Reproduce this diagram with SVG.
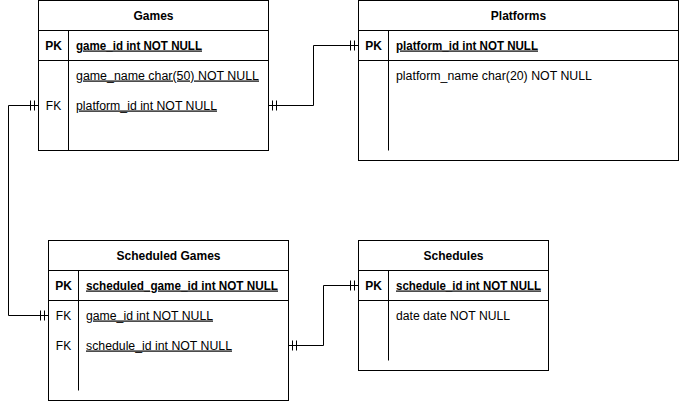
<svg xmlns="http://www.w3.org/2000/svg" width="679" height="401" viewBox="0 0 679 401">
<style>
.box{fill:#fff;stroke:#000;stroke-width:1}
.ln{fill:none;stroke:#000;stroke-width:1}
text{font-family:"Liberation Sans",Arial,sans-serif;font-size:12px;fill:#000}
.t{font-weight:bold;text-anchor:middle}
.k{text-anchor:middle}
.kb{text-anchor:middle;font-weight:bold}
.pk{font-weight:bold;text-decoration:underline}
.u{text-decoration:underline}
</style>
<rect width="679" height="401" fill="#fff"/>
<g id="connectors" class="ln">
<path d="M268.5,105.5 H313.5 V45.5 H358.5"/>
<path d="M272.5,100.5 V110.5 M276.5,100.5 V110.5 M354.5,40.5 V50.5 M350.5,40.5 V50.5"/>
<path d="M38.5,105.5 H8.5 V315.5 H48.5"/>
<path d="M34.5,100.5 V110.5 M30.5,100.5 V110.5 M44.5,310.5 V320.5 M40.5,310.5 V320.5"/>
<path d="M288.5,345.5 H323.5 V285.5 H358.5"/>
<path d="M292.5,340.5 V350.5 M296.5,340.5 V350.5 M354.5,280.5 V290.5 M350.5,280.5 V290.5"/>
</g>
<g id="games">
<rect class="box" x="38.5" y="0.5" width="230" height="150"/>
<path class="ln" d="M38.5,30.5 H268.5 M38.5,60.5 H268.5 M68.5,30.5 V150.5"/>
<text class="t" x="153.5" y="19.5">Games</text>
<text class="kb" x="53.5" y="49.5">PK</text>
<text class="pk" x="76" y="49.5" textLength="126" lengthAdjust="spacingAndGlyphs">game_id int NOT NULL</text>
<text class="u" x="76" y="79.5" textLength="183" lengthAdjust="spacingAndGlyphs">game_name char(50) NOT NULL</text>
<text class="k" x="53.5" y="109.5">FK</text>
<text class="u" x="76" y="109.5" textLength="141" lengthAdjust="spacingAndGlyphs">platform_id int NOT NULL</text>
</g>
<g id="platforms">
<rect class="box" x="358.5" y="0.5" width="320" height="160"/>
<path class="ln" d="M358.5,30.5 H678.5 M358.5,60.5 H678.5 M388.5,30.5 V150.5"/>
<text class="t" x="518.5" y="19.5">Platforms</text>
<text class="kb" x="373.5" y="49.5">PK</text>
<text class="pk" x="396" y="49.5" textLength="142" lengthAdjust="spacingAndGlyphs">platform_id int NOT NULL</text>
<text x="396" y="79.5" textLength="196" lengthAdjust="spacingAndGlyphs">platform_name char(20) NOT NULL</text>
</g>
<g id="scheduled-games">
<rect class="box" x="48.5" y="240.5" width="240" height="160"/>
<path class="ln" d="M48.5,270.5 H288.5 M48.5,300.5 H288.5 M78.5,270.5 V390.5"/>
<text class="t" x="168.5" y="259.5">Scheduled Games</text>
<text class="kb" x="63.5" y="289.5">PK</text>
<text class="pk" x="86" y="289.5" textLength="192" lengthAdjust="spacingAndGlyphs">scheduled_game_id int NOT NULL</text>
<text class="k" x="63.5" y="319.5">FK</text>
<text class="u" x="86" y="319.5" textLength="127" lengthAdjust="spacingAndGlyphs">game_id int NOT NULL</text>
<text class="k" x="63.5" y="349.5">FK</text>
<text class="u" x="86" y="349.5" textLength="146" lengthAdjust="spacingAndGlyphs">schedule_id int NOT NULL</text>
</g>
<g id="schedules">
<rect class="box" x="358.5" y="240.5" width="190" height="130"/>
<path class="ln" d="M358.5,270.5 H548.5 M358.5,300.5 H548.5 M388.5,270.5 V360.5"/>
<text class="t" x="453.5" y="259.5">Schedules</text>
<text class="kb" x="373.5" y="289.5">PK</text>
<text class="pk" x="396" y="289.5" textLength="145" lengthAdjust="spacingAndGlyphs">schedule_id int NOT NULL</text>
<text x="396" y="319.5" textLength="114" lengthAdjust="spacingAndGlyphs">date date NOT NULL</text>
</g>
</svg>
